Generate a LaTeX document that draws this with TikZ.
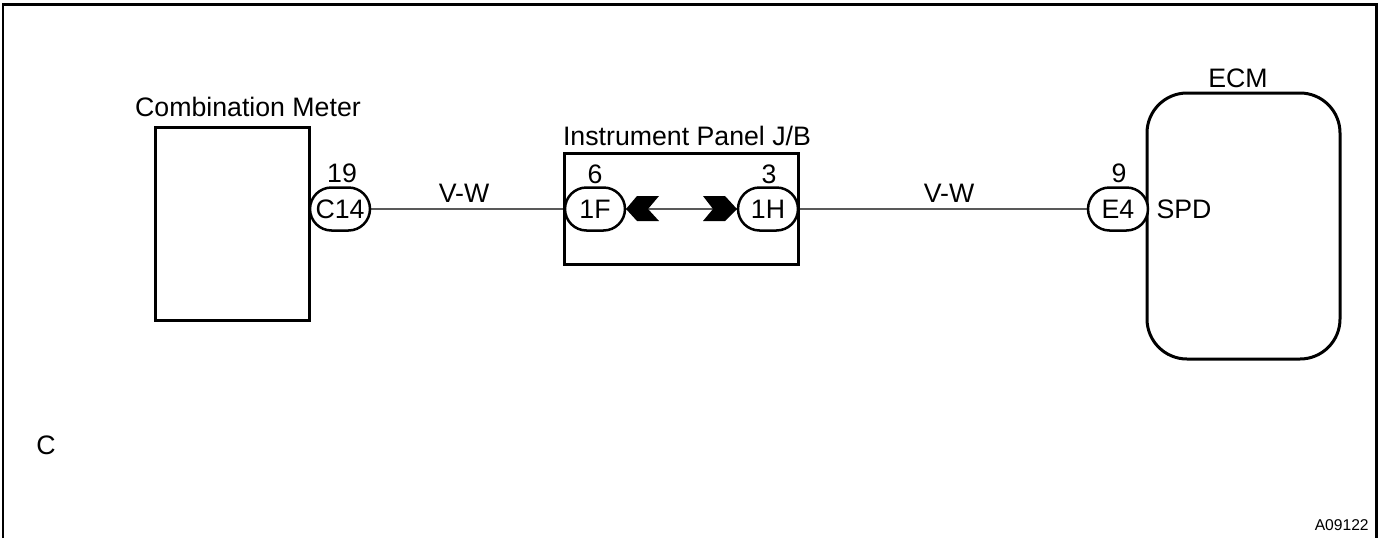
\documentclass[tikz,border=0pt]{standalone}
\usepackage{fontspec}
\setmainfont{Liberation Sans}
\usetikzlibrary{shapes.misc}
\tikzset{
	label text/.style={inner sep=0pt, font=\fontsize{15.2}{17}\selectfont},
	unit box/.style={draw, line width=0.6mm, fill=white},
	conn pill/.style={draw, line width=0.5mm, fill=white, rounded rectangle, inner sep=0pt, minimum width=1.2cm, minimum height=0.86cm, font=\fontsize{15.2}{17}\selectfont},
	wire/.style={line width=0.25mm}
}

\begin{document}
\begin{tikzpicture}[x=0.02cm, y=-0.02cm]
	\useasboundingbox (0, 0) rectangle (1382, 538);
	
	%%%%% FRAME %%%%%
	\draw[line width=0.6mm] (3, 538) -- (3, 4) -- (1376, 4) -- (1376, 538);
	
	%%%%% UNITS %%%%%
	\draw[unit box] (155, 127) rectangle (309, 320);
	\draw[unit box] (564, 153) rectangle (798, 264);
	\draw[unit box, rounded corners=0.8cm] (1147, 93) rectangle (1340, 359);
	
	\node[label text] (meterlabel) at (248, 107) {Combination Meter};
	\node[label text] (jblabel) at (687, 136) {Instrument Panel J/B};
	\node[label text] (ecmlabel) at (1238, 78) {ECM};
	
	%%%%% CONNECTORS %%%%%
	\node[conn pill] (c14) at (340, 209) {C14};
	\node[conn pill] (f1) at (595, 209) {1F};
	\node[conn pill] (h1) at (768, 209) {1H};
	\node[conn pill] (e4) at (1118, 209) {E4};
	
	\draw[wire] (c14) -- (f1);
	\draw[wire] (f1) -- (h1);
	\draw[wire] (h1) -- (e4);
	
	\fill (626, 209) -- (637, 196) -- (659, 196) -- (648, 209) -- (659, 221) -- (637, 221) -- cycle;
	\fill (737, 209) -- (725, 196) -- (703, 196) -- (713, 209) -- (703, 221) -- (725, 221) -- cycle;
	
	%%%%% LABELS %%%%%
	\node[label text] (pinc) at (342, 173) {19};
	\node[label text] (pinf) at (595, 174) {6};
	\node[label text] (pinh) at (769, 174) {3};
	\node[label text] (pine) at (1119, 173) {9};
	\node[label text] (wirea) at (464, 193) {V-W};
	\node[label text] (wireb) at (949, 193) {V-W};
	\node[label text] (spd) at (1184, 209) {SPD};
	\node[label text] (sysc) at (46, 445) {C};
	\node[inner sep=0pt, anchor=east, font=\fontsize{8.9}{10}\selectfont] (figid) at (1369, 525) {A09122};
\end{tikzpicture}
\end{document}
